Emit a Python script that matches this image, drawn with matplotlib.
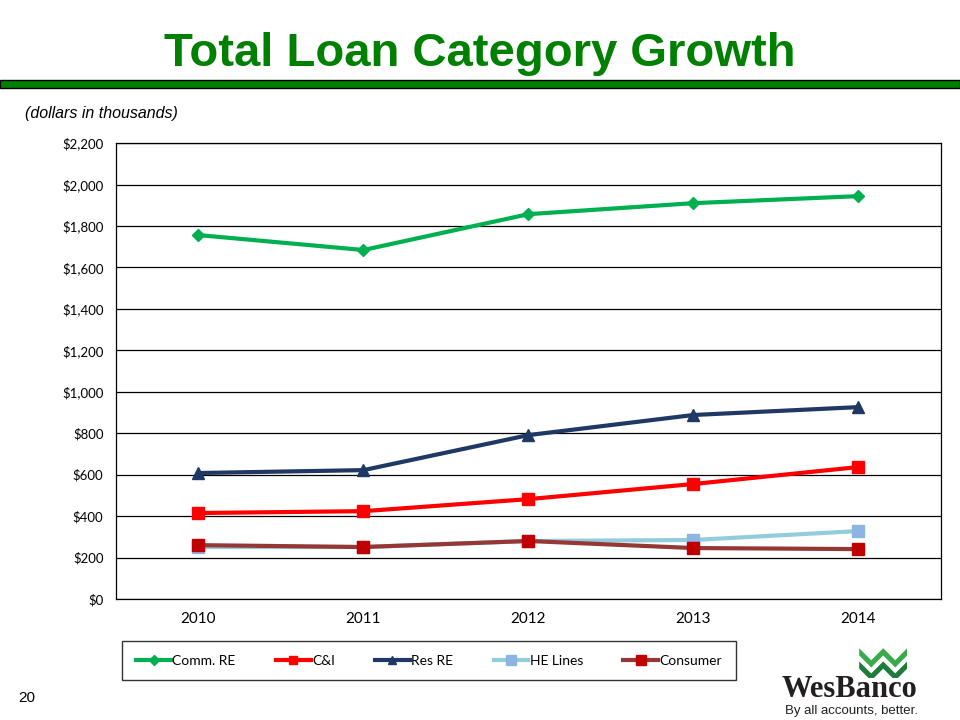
import matplotlib.pyplot as plt
import matplotlib.patches as patches
import numpy as np

years = ['2010', '2011', '2012', '2013', '2014']
comm_re = [1756, 1684, 1857, 1910, 1944]
c_and_i = [415, 424, 482, 555, 637]
res_re = [608, 622, 791, 888, 926]
he_lines = [251, 251, 280, 285, 328]
consumer = [260, 251, 280, 246, 241]
yticks = [0, 200, 400, 600, 800, 1000, 1200, 1400, 1600, 1800, 2000, 2200]

plt.rcParams['font.family'] = ['Lato', 'DejaVu Sans']

fig = plt.figure(figsize=(9.6, 7.2), dpi=100)

# title and green rule
fig.text(0.5, 0.925, 'Total Loan Category Growth', ha='center', va='center',
         fontsize=34, fontweight='bold', color='#008000', family='Liberation Sans')
fig.patches.append(patches.Rectangle((0, 0.878), 1.0, 0.011, transform=fig.transFigure,
                                     facecolor='#008000', edgecolor='black', linewidth=1))
fig.text(0.026, 0.843, '(dollars in thousands)', ha='left', va='center', fontsize=11.5,
         style='italic', family='Liberation Sans')

ax = fig.add_axes([0.1208, 0.168, 0.8594, 0.6333])
x = np.arange(len(years))

ax.plot(x, comm_re, color='#00B050', lw=3, marker='D', ms=6, label='Comm. RE', zorder=5)
ax.plot(x, c_and_i, color='#FF0000', lw=3, marker='s', ms=8, label='C&I', zorder=4)
ax.plot(x, res_re, color='#1F3864', lw=3, marker='^', ms=8, label='Res RE', zorder=4)
ax.plot(x, he_lines, color='#93CDDD', lw=3, marker='s', ms=9, mfc='#8EB4E3', mec='#8EB4E3',
        label='HE Lines', zorder=3)
ax.plot(x, consumer, color='#953735', lw=3, marker='s', ms=9, mfc='#C00000', mec='#C00000',
        label='Consumer', zorder=4)

ax.set_xlim(-0.5, 4.5)
ax.set_ylim(0, 2200)
ax.set_xticks(x)
ax.set_xticklabels(years, fontsize=11)
ax.set_yticks(yticks)
ax.set_yticklabels(['${:,}'.format(v) for v in yticks], fontsize=9.5)
ax.tick_params(length=0, pad=9)
ax.grid(axis='y', color='black', lw=0.9)
ax.set_axisbelow(True)
for s in ax.spines.values():
    s.set_color('black')
    s.set_linewidth(0.9)

leg = fig.legend(loc='center', bbox_to_anchor=(0.447, 0.0826), ncol=5, frameon=True,
                 fancybox=False, edgecolor='black', fontsize=10, handlelength=2.5,
                 handletextpad=0.1, columnspacing=2.9, borderpad=1.0, borderaxespad=0,
                 markerscale=0.8)
leg.get_frame().set_linewidth(1)

# page number
fig.text(0.019, 0.03, '20', fontsize=11, ha='left', va='center', family='Liberation Sans')

# logo
fig.text(0.885, 0.042, 'WesBanco', fontsize=22, fontweight='bold', ha='center', va='center',
         family='Liberation Serif', color='#231F20')
fig.text(0.887, 0.012, 'By all accounts, better.', fontsize=9.5, ha='center', va='center',
         color='#231F20', family='Liberation Sans')
logo = fig.add_axes([0.895, 0.058, 0.05, 0.05])
logo.set_xlim(0, 4)
logo.set_ylim(0, 3)
logo.axis('off')
for dy, c in [(0, '#1E7B3A'), (1.1, '#3BAA4A')]:
    logo.add_patch(patches.Polygon([[0, 1.4 + dy], [1, 0.4 + dy], [2, 1.4 + dy], [3, 0.4 + dy],
                                    [4, 1.4 + dy], [4, 0.8 + dy], [3, -0.2 + dy], [2, 0.8 + dy],
                                    [1, -0.2 + dy], [0, 0.8 + dy]],
                                   closed=True, facecolor=c, edgecolor='none'))

fig.savefig('out.png', dpi=100)
